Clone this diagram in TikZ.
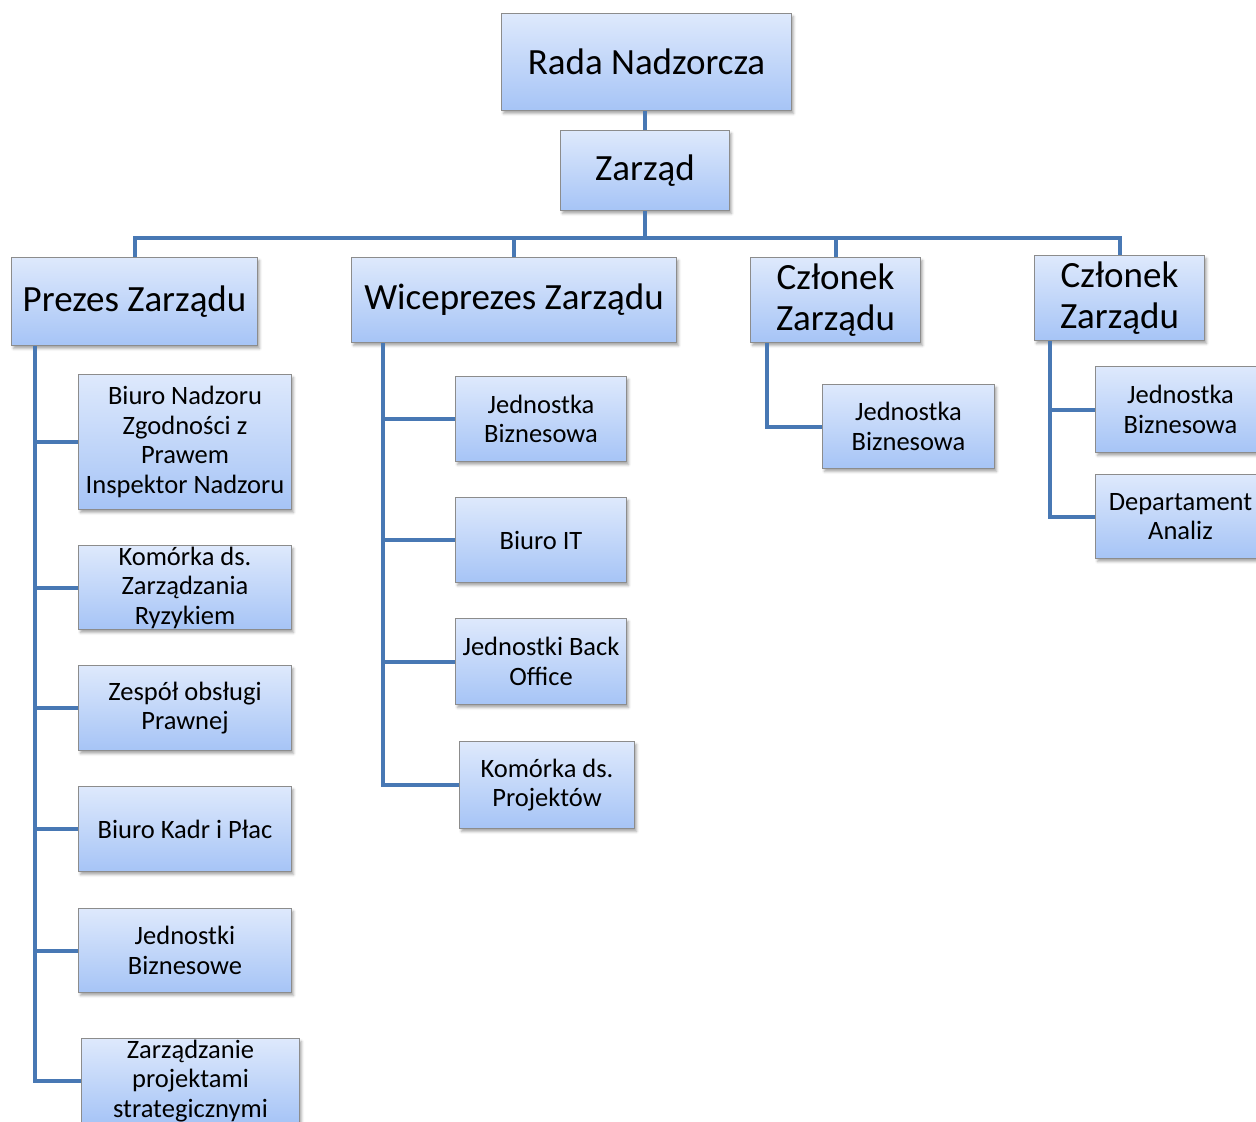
\documentclass[tikz,border=0pt]{standalone}
\usepackage{fontspec}
\setmainfont{Carlito}
\usepackage{tikz}
\usetikzlibrary{shadows.blur}
\definecolor{linkblue}{RGB}{72,120,180}
\definecolor{boxtop}{RGB}{222,233,252}
\definecolor{boxbottom}{RGB}{166,196,246}
\definecolor{boxgray}{RGB}{140,140,140}

\begin{document}
\begin{tikzpicture}[x=1pt, y=-1pt,
	box/.style={draw=boxgray, line width=1pt, top color=boxtop, bottom color=boxbottom, anchor=north west, align=center, inner sep=0pt,
		blur shadow={shadow xshift=2pt, shadow yshift=-3pt, shadow blur radius=2.5pt, shadow opacity=35}},
	big/.style={font=\fontsize{37}{41}\selectfont},
	small/.style={font=\fontsize{26.5}{29.5}\selectfont},
	link/.style={draw=linkblue, line width=4pt}]
	\useasboundingbox (0,0) rectangle (1256,1122);
	\clip (0,0) rectangle (1256,1122);
	% top of the chart
	\node[box, big, minimum width=290pt, minimum height=97pt] (rada) at (501,13) {Rada Nadzorcza};
	\node[box, big, minimum width=169pt, minimum height=80pt] (zarzad) at (560,130) {Zarząd};
	\coordinate (bus) at (644,238);
	\node[box, big, minimum width=246pt, minimum height=88pt] (prezes) at (11,257) {Prezes Zarządu};
	\node[box, big, minimum width=325pt, minimum height=85pt] (wice) at (351,257) {Wiceprezes Zarządu};
	\node[box, big, minimum width=170pt, minimum height=85pt] (czlonekA) at (750,257) {Członek\\Zarządu};
	\node[box, big, minimum width=170pt, minimum height=85pt] (czlonekB) at (1034,255) {Członek\\Zarządu};
	% Prezes
	\node[box, small, minimum width=213pt, minimum height=135pt] (bnz) at (78,374) {Biuro Nadzoru\\Zgodności z\\Prawem\\Inspektor Nadzoru};
	\node[box, small, minimum width=213pt, minimum height=84pt] (kzr) at (78,545) {Komórka ds.\\Zarządzania\\Ryzykiem};
	\node[box, small, minimum width=213pt, minimum height=85pt] (zop) at (78,665) {Zespół obsługi\\Prawnej};
	\node[box, small, minimum width=213pt, minimum height=85pt] (bkp) at (78,786) {Biuro Kadr i Płac};
	\node[box, small, minimum width=213pt, minimum height=84pt] (jbz) at (78,908) {Jednostki\\Biznesowe};
	\node[box, small, minimum width=218pt, minimum height=85pt] (zps) at (81,1038) {Zarządzanie\\projektami\\strategicznymi};
	% Wiceprezes
	\node[box, small, minimum width=171pt, minimum height=85pt] (wjb) at (455,376) {Jednostka\\Biznesowa};
	\node[box, small, minimum width=171pt, minimum height=85pt] (bit) at (455,497) {Biuro IT};
	\node[box, small, minimum width=171pt, minimum height=86pt] (jbo) at (455,618) {Jednostki Back\\Office};
	\node[box, small, minimum width=175pt, minimum height=87pt] (kdp) at (459,741) {Komórka ds.\\Projektów};
	% Czlonkowie
	\node[box, small, minimum width=172pt, minimum height=84pt] (ajb) at (822,384) {Jednostka\\Biznesowa};
	\node[box, small, minimum width=170pt, minimum height=86pt] (bjb) at (1095,366) {Jednostka\\Biznesowa};
	\node[box, small, minimum width=170pt, minimum height=84pt] (dan) at (1095,474) {Departament\\Analiz};
	% connectors
	\draw[link] (zarzad.north) -- (zarzad.north |- rada.south);
	\draw[link] (zarzad.south) -- (zarzad.south |- bus);
	\foreach \n in {prezes,wice,czlonekA,czlonekB}
		\draw[link] (bus) -| (\n.north);
	\coordinate (ps) at ([xshift=24pt]prezes.south west);
	\foreach \n in {bnz,kzr,zop,bkp,jbz,zps}
		\draw[link] (ps) |- (\n.west);
	\coordinate (ws) at ([xshift=32pt]wice.south west);
	\foreach \n in {wjb,bit,jbo,kdp}
		\draw[link] (ws) |- (\n.west);
	\coordinate (as) at ([xshift=17pt]czlonekA.south west);
	\draw[link] (as) |- (ajb.west);
	\coordinate (bs) at ([xshift=16pt]czlonekB.south west);
	\foreach \n in {bjb,dan}
		\draw[link] (bs) |- (\n.west);
\end{tikzpicture}
\end{document}
